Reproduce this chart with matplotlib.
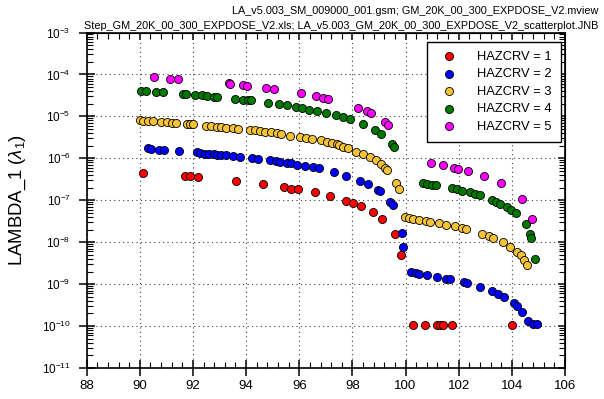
import matplotlib
matplotlib.use('Agg')
import matplotlib.pyplot as plt
import matplotlib.ticker as mticker
import numpy as np

plt.rcParams['font.family'] = ['Liberation Sans', 'DejaVu Sans']
plt.rcParams['mathtext.fontset'] = 'custom'
plt.rcParams['mathtext.rm'] = 'Liberation Sans'
plt.rcParams['mathtext.it'] = 'Liberation Sans:italic'
plt.rcParams['mathtext.bf'] = 'Liberation Sans:bold'

# HAZCRV = 1
x1 = [90.13, 91.70, 91.88, 92.20, 93.61, 94.63, 95.43, 95.69, 95.96, 96.58,
      97.14, 97.77, 98.02, 98.31, 98.78, 99.13, 99.62, 99.82,
      100.29, 100.74, 101.18, 101.29, 101.41, 101.76, 104.02]
y1 = [4.47e-7, 3.8e-7, 3.72e-7, 3.55e-7, 2.88e-7, 2.4e-7, 2.04e-7, 1.9e-7, 1.82e-7, 1.55e-7,
      1.29e-7, 9.5e-8, 8.5e-8, 7.2e-8, 5.2e-8, 3.6e-8, 1.55e-8, 5.0e-9,
      1.05e-10, 1.05e-10, 1.05e-10, 1.05e-10, 1.05e-10, 1.05e-10, 1.05e-10]

# HAZCRV = 2
x2 = [90.29, 90.41, 90.71, 90.91, 91.48, 92.14, 92.26, 92.45, 92.62, 92.79,
      92.92, 93.07, 93.23, 93.50, 93.76, 94.23, 94.45, 94.90, 95.11, 95.28,
      95.53, 95.69, 95.92, 96.21, 96.50, 96.73, 97.29, 97.77, 98.29, 98.59,
      98.95, 99.03, 99.43, 99.53, 99.86, 99.89, 100.20, 100.41, 100.50, 100.79,
      101.17, 101.53, 101.66, 102.20, 102.32, 102.79, 103.25, 103.47, 103.70, 104.09,
      104.20, 104.39, 104.62, 104.80, 104.94]
y2 = [1.74e-6, 1.70e-6, 1.58e-6, 1.58e-6, 1.48e-6, 1.38e-6, 1.35e-6, 1.29e-6, 1.29e-6, 1.26e-6,
      1.23e-6, 1.20e-6, 1.17e-6, 1.12e-6, 1.10e-6, 1.00e-6, 9.8e-7, 8.9e-7, 8.5e-7, 8.3e-7,
      7.8e-7, 7.6e-7, 7.1e-7, 6.6e-7, 6.3e-7, 5.9e-7, 4.7e-7, 3.8e-7, 2.9e-7, 2.45e-7,
      1.78e-7, 1.62e-7, 9.3e-8, 7.9e-8, 1.66e-8, 7.8e-9, 1.9e-9, 1.82e-9, 1.78e-9, 1.66e-9,
      1.51e-9, 1.35e-9, 1.32e-9, 1.10e-9, 1.05e-9, 8.7e-10, 6.9e-10, 5.9e-10, 4.9e-10, 3.5e-10,
      2.95e-10, 2.2e-10, 1.32e-10, 1.10e-10, 1.10e-10]

# HAZCRV = 3
x3 = [90.00, 90.13, 90.32, 90.48, 90.79, 91.03, 91.22, 91.37, 91.76, 91.87,
      92.01, 92.49, 92.67, 92.91, 93.07, 93.26, 93.49, 93.70, 94.14, 94.32,
      94.52, 94.71, 94.92, 95.15, 95.33, 95.67, 96.01, 96.27, 96.48, 96.81,
      97.05, 97.25, 97.42, 97.50, 97.65, 97.83, 98.15, 98.40, 98.65, 98.90,
      99.09, 99.23, 99.32, 99.65, 99.75, 99.98, 100.12, 100.28, 100.50, 100.78,
      100.91, 101.25, 101.53, 101.86, 102.13, 102.29, 102.89, 103.13, 103.30, 103.66,
      103.93, 104.20, 104.33, 104.45, 104.58]
y3 = [8.1e-6, 7.96e-6, 7.8e-6, 7.67e-6, 7.4e-6, 7.26e-6, 7.13e-6, 7.0e-6, 6.62e-6, 6.5e-6,
      6.5e-6, 6.05e-6, 5.83e-6, 5.62e-6, 5.52e-6, 5.42e-6, 5.22e-6, 5.04e-6, 4.78e-6, 4.69e-6,
      4.52e-6, 4.36e-6, 4.2e-6, 4.05e-6, 3.9e-6, 3.44e-6, 3.19e-6, 3.02e-6, 2.86e-6, 2.71e-6,
      2.47e-6, 2.34e-6, 2.21e-6, 2.04e-6, 1.91e-6, 1.74e-6, 1.45e-6, 1.26e-6, 1.10e-6, 9.1e-7,
      7.4e-7, 6.0e-7, 5.4e-7, 2.63e-7, 1.86e-7, 4.0e-8, 3.8e-8, 3.63e-8, 3.47e-8, 3.16e-8,
      3.02e-8, 2.88e-8, 2.63e-8, 2.4e-8, 2.14e-8, 2.04e-8, 1.58e-8, 1.41e-8, 1.26e-8, 1.0e-8,
      7.8e-9, 5.9e-9, 4.9e-9, 3.8e-9, 2.9e-9]

# HAZCRV = 4
x4 = [90.04, 90.24, 90.62, 90.88, 91.61, 91.73, 92.08, 92.33, 92.51, 92.80,
      92.92, 93.59, 93.88, 94.08, 94.19, 94.83, 95.23, 95.53, 95.87, 96.11,
      96.35, 96.67, 97.02, 97.40, 97.64, 97.90, 98.39, 98.86, 99.06, 99.48,
      99.55, 100.64, 100.79, 100.99, 101.13, 101.73, 101.95, 102.13, 102.42, 102.61,
      102.79, 103.25, 103.39, 103.56, 103.83, 103.98, 104.15, 104.52, 104.67, 104.73,
      104.88]
y4 = [4.05e-5, 3.98e-5, 3.83e-5, 3.72e-5, 3.47e-5, 3.47e-5, 3.24e-5, 3.16e-5, 3.09e-5, 2.95e-5,
      2.88e-5, 2.63e-5, 2.45e-5, 2.45e-5, 2.4e-5, 2.14e-5, 1.95e-5, 1.82e-5, 1.66e-5, 1.55e-5,
      1.45e-5, 1.38e-5, 1.23e-5, 1.07e-5, 9.8e-6, 8.5e-6, 6.6e-6, 4.8e-6, 3.8e-6, 2.14e-6,
      1.86e-6, 2.63e-7, 2.45e-7, 2.34e-7, 2.29e-7, 2.0e-7, 1.86e-7, 1.7e-7, 1.55e-7, 1.41e-7,
      1.32e-7, 1.02e-7, 9.1e-8, 8.3e-8, 6.8e-8, 5.9e-8, 5.0e-8, 2.7e-8, 1.58e-8, 1.26e-8,
      4.0e-9]

# HAZCRV = 5
x5 = [90.53, 91.13, 91.42, 93.35, 93.41, 93.89, 94.05, 94.73, 95.05, 96.07,
      96.63, 96.89, 97.08, 98.21, 98.56, 98.71, 99.23, 99.35, 100.97, 101.42,
      101.82, 101.99, 102.35, 102.96, 103.59, 104.37, 104.74]
y5 = [8.5e-5, 7.8e-5, 7.6e-5, 6.2e-5, 5.9e-5, 5.5e-5, 5.25e-5, 4.7e-5, 4.47e-5, 3.55e-5,
      3.02e-5, 2.75e-5, 2.63e-5, 1.62e-5, 1.35e-5, 1.2e-5, 7.4e-6, 6.2e-6, 7.8e-7, 6.8e-7,
      6.0e-7, 5.6e-7, 5.0e-7, 3.8e-7, 2.57e-7, 1.1e-7, 3.55e-8]

series = [(x1, y1, '#FF0000', 'HAZCRV = 1'),
          (x2, y2, '#0000FF', 'HAZCRV = 2'),
          (x3, y3, '#F5C335', 'HAZCRV = 3'),
          (x4, y4, '#007800', 'HAZCRV = 4'),
          (x5, y5, '#FF00FF', 'HAZCRV = 5')]

xticks = [88, 90, 92, 94, 96, 98, 100, 102, 104, 106]
yticks = [1e-11, 1e-10, 1e-9, 1e-8, 1e-7, 1e-6, 1e-5, 1e-4, 1e-3]

fig = plt.figure(figsize=(6.04, 3.99), dpi=100)
ax = fig.add_axes([0.1435, 0.0777, 0.7919, 0.8408])

for xs, ys, col, lab in series:
    ax.scatter(xs, ys, s=34, c=col, edgecolors='black', linewidths=0.6, label=lab, zorder=3)

ax.set_yscale('log')
ax.set_xlim(88, 106)
ax.set_ylim(1e-11, 1e-3)
ax.xaxis.set_major_locator(mticker.FixedLocator(xticks))
ax.xaxis.set_minor_locator(mticker.MultipleLocator(0.4))
ax.yaxis.set_major_locator(mticker.FixedLocator(yticks))
ax.yaxis.set_major_formatter(mticker.LogFormatterSciNotation())
ax.yaxis.set_minor_locator(mticker.LogLocator(base=10, subs=np.arange(2, 10), numticks=20))
ax.yaxis.set_minor_formatter(mticker.NullFormatter())

ax.grid(True, which='major', linestyle=(0, (1, 3)), color='#444444', linewidth=0.8)
ax.tick_params(which='major', direction='inout', length=11, width=1.1)
ax.tick_params(which='minor', direction='in', length=4, width=0.8)
ax.tick_params(axis='x', which='major', labelsize=9.5, pad=3)
ax.tick_params(axis='y', which='major', labelsize=8.5, pad=6)
for sp in ax.spines.values():
    sp.set_linewidth(1.2)

# inward ticks on top and right
top = ax.secondary_xaxis('top')
top.xaxis.set_major_locator(mticker.FixedLocator(xticks))
top.xaxis.set_minor_locator(mticker.MultipleLocator(0.4))
top.tick_params(which='major', direction='in', length=5, width=1.1, labeltop=False)
top.tick_params(which='minor', direction='in', length=4, width=0.8)
right = ax.secondary_yaxis('right')
right.yaxis.set_major_locator(mticker.FixedLocator(yticks))
right.yaxis.set_minor_locator(mticker.LogLocator(base=10, subs=np.arange(2, 10), numticks=20))
right.yaxis.set_minor_formatter(mticker.NullFormatter())
right.tick_params(which='major', direction='in', length=5, width=1.1, labelright=False)
right.tick_params(which='minor', direction='in', length=4, width=0.8)

ax.set_ylabel(r'LAMBDA_1 ($\lambda_1$)', fontsize=13.3, labelpad=10)

leg = ax.legend(loc='upper right', bbox_to_anchor=(0.9916, 0.9726), borderaxespad=0,
                fontsize=9.3, frameon=True, fancybox=False, framealpha=1, edgecolor='black',
                labelspacing=0.42, handletextpad=1.2, borderpad=0.7, scatterpoints=1)
leg.get_frame().set_linewidth(1.0)

fig.text(0.99, 0.972, 'LA_v5.003_SM_009000_001.gsm; GM_20K_00_300_EXPDOSE_V2.mview',
         ha='right', va='center', fontsize=7.8)
fig.text(0.99, 0.935, 'Step_GM_20K_00_300_EXPDOSE_V2.xls; LA_v5.003_GM_20K_00_300_EXPDOSE_V2_scatterplot.JNB',
         ha='right', va='center', fontsize=7.8)

fig.savefig('out.png', dpi=100)
